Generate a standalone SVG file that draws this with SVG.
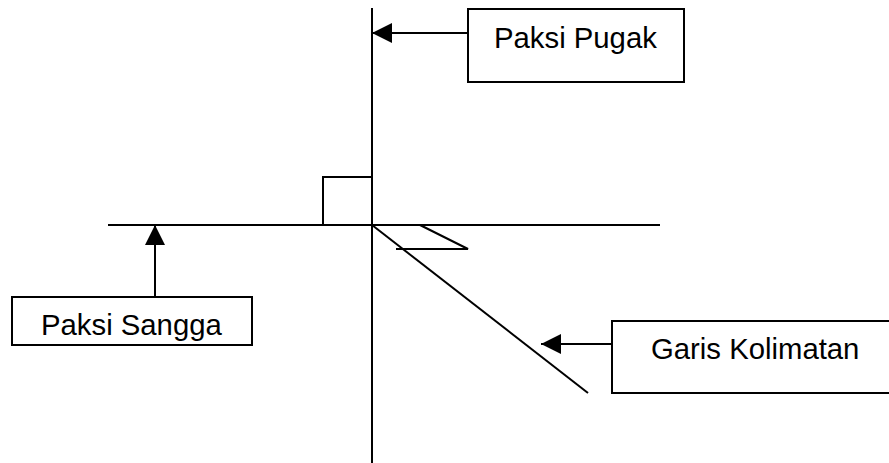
<svg xmlns="http://www.w3.org/2000/svg" width="889" height="463" viewBox="0 0 889 463">
<style>
.ln{stroke:#000;stroke-width:2;fill:none}
.box{stroke:#000;stroke-width:2;fill:#fff}
.lbl{font-family:"Liberation Sans",Arial,sans-serif;font-size:29.3px;fill:#000}
</style>
<defs>
<marker id="ah" markerWidth="20" markerHeight="20" viewBox="0 0 20 20" refX="20" refY="10" orient="auto" markerUnits="userSpaceOnUse">
<path d="M0,0 L20,10 L0,20 Z" fill="#000"/>
</marker>
</defs>
<rect width="889" height="463" fill="#fff"/>
<g id="axes">
<line class="ln" x1="372" y1="8" x2="372" y2="463"/>
<line class="ln" x1="108" y1="225" x2="660" y2="225"/>
<polyline class="ln" points="323,225 323,177 372,177"/>
<line class="ln" x1="372" y1="225" x2="588" y2="393"/>
<polyline class="ln" points="420,225 468,249 396,249"/>
</g>
<g id="connectors">
<line class="ln" x1="468" y1="33" x2="372" y2="33" marker-end="url(#ah)"/>
<line class="ln" x1="155" y1="297" x2="155" y2="225" marker-end="url(#ah)"/>
<line class="ln" x1="612" y1="344" x2="541" y2="344" marker-end="url(#ah)"/>
</g>
<g id="paksi-pugak">
<rect class="box" x="468" y="9" width="216" height="73"/>
<text class="lbl" x="494" y="48">Paksi Pugak</text>
</g>
<g id="paksi-sangga">
<rect class="box" x="12" y="297" width="240" height="48"/>
<text class="lbl" x="41" y="335">Paksi Sangga</text>
</g>
<g id="garis-kolimatan">
<rect class="box" x="612" y="321" width="280" height="72"/>
<text class="lbl" x="651" y="359">Garis Kolimatan</text>
</g>
</svg>
